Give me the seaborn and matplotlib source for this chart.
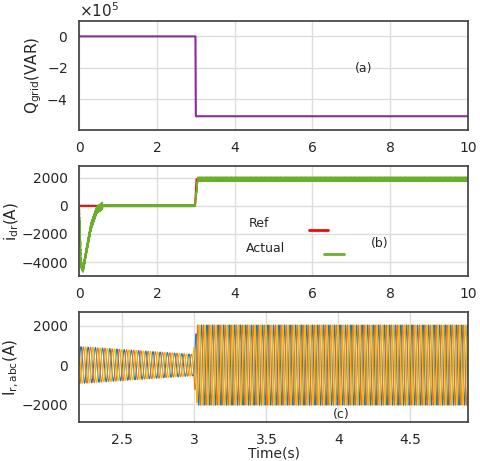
import numpy as np
import matplotlib
matplotlib.use("Agg")
import matplotlib.pyplot as plt
import seaborn as sns

sns.set_theme(style="whitegrid")
plt.rcParams['font.family'] = ['DejaVu Sans']

# Q_grid step
q_time = [0, 2.99, 3.0, 10]
q_vals = [0, 0, -5.1e5, -5.1e5]
# i_dr reference and actual (key points)
ref_time = [0, 0.3, 0.3, 2.98, 3.02, 10]
ref_vals = [0, 0, 0, 0, 1900, 1900]
act_time = [0, 0.05, 0.1, 0.2, 0.3, 0.45, 0.6, 2.98, 3.05, 10]
act_vals = [0, -4200, -4500, -3000, -1500, -300, 0, 0, 1900, 1900]
# rotor current envelope
env_time = [2.2, 2.99, 3.02, 4.9]
env_amp = [950, 550, 2050, 2050]
env_freq = [20, 20, 26, 26]

fig, axes = plt.subplots(3, 1, figsize=(4.8, 4.61), dpi=100)
plt.subplots_adjust(left=0.165, right=0.975, top=0.955, bottom=0.085, hspace=0.33)

ax = axes[0]
sns.lineplot(x=q_time, y=q_vals, ax=ax, color="#8B2C99", lw=1.5)
ax.set_xlim(0, 10); ax.set_ylim(-6e5, 1e5)
ax.set_yticks([-4e5, -2e5, 0])
ax.ticklabel_format(axis='y', style='sci', scilimits=(5, 5), useMathText=True)
ax.set_ylabel(r"Q$_{\rm grid}$(VAR)", fontsize=11, labelpad=2)
ax.text(7.1, -2.3e5, "(a)", fontsize=9)

ax = axes[1]
t = np.linspace(0, 10, 30000)
act = np.interp(t, act_time, act_vals)
noise_amp = np.where(t > 3, 130, np.where(t < 0.6, 250, 50))
rng_t = np.sin(t * 2997.0) * np.cos(t * 1613.0)
act = act + noise_amp * rng_t
sns.lineplot(x=ref_time, y=ref_vals, ax=ax, color="red", lw=1.5)
sns.lineplot(x=t, y=act, ax=ax, color="#6AAE2A", lw=1.0)
ax.set_xlim(0, 10); ax.set_ylim(-5000, 2800)
ax.set_yticks([-4000, -2000, 0, 2000])
ax.set_ylabel(r"i$_{\rm dr}$(A)", fontsize=11, labelpad=0)
ax.plot([5.9, 6.4], [-1700, -1700], color="red", lw=2)
ax.text(4.35, -1500, "Ref", fontsize=9)
ax.plot([6.3, 6.8], [-3400, -3400], color="#6AAE2A", lw=2)
ax.text(4.3, -3300, "Actual", fontsize=9)
ax.text(7.5, -2900, "(b)", fontsize=9)

ax = axes[2]
tt = np.linspace(2.2, 4.9, 40000)
amp = np.interp(tt, env_time, env_amp)
freq = np.interp(tt, env_time, env_freq)
phase = 2 * np.pi * np.cumsum(freq) * (tt[1] - tt[0])
for k, c in enumerate(["#1F77B4", "#E8731C", "#F2B705"]):
    ax.plot(tt, amp * np.sin(phase - 2 * np.pi * k / 3), color=c, lw=0.8)
ax.set_xlim(2.2, 4.9); ax.set_ylim(-2900, 2700)
ax.set_xticks([2.5, 3, 3.5, 4, 4.5])
ax.set_xticklabels(["2.5", "3", "3.5", "4", "4.5"])
ax.set_yticks([-2000, 0, 2000])
ax.set_ylabel(r"I$_{\rm r,abc}$(A)", fontsize=11, labelpad=0)
ax.set_xlabel("Time(s)", labelpad=0, fontsize=10)
ax.text(3.96, -2700, "(c)", fontsize=9)

for a in axes:
    for s in a.spines.values():
        s.set_visible(True); s.set_color("#444444")
    a.tick_params(labelsize=10, pad=2)
    a.grid(True, color="#dddddd")
fig.savefig("out.png")
